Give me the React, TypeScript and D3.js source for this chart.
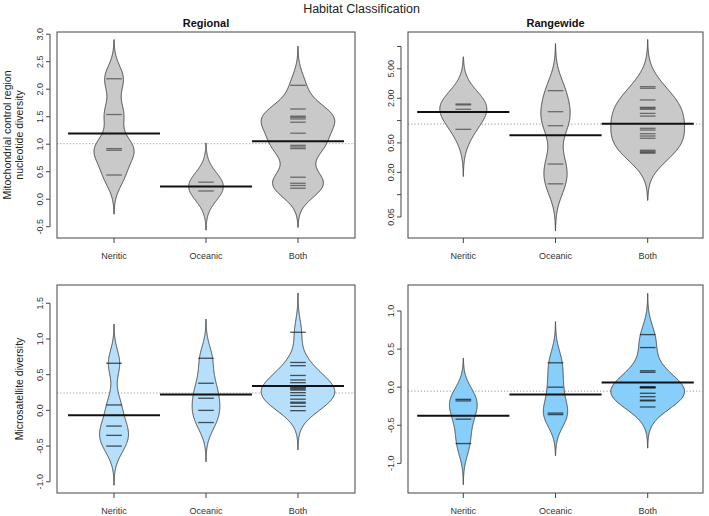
import React from "react";
import * as d3 from "d3";

// ---------- data ----------
const categories = ["Neritic", "Oceanic", "Both"];

// Mitochondrial control region nucleotide diversity – Regional
const mtRegionalNeritic = [2.19, 1.54, 0.92, 0.89, 0.44];
const mtRegionalOceanic = [0.31, 0.15];
const mtRegionalBoth = [2.07, 1.64, 1.51, 1.49, 1.46, 1.4, 1.2, 0.98, 0.95, 0.92, 0.4, 0.29, 0.25, 0.2];

// Mitochondrial – Rangewide (log scale)
const mtRangewideNeritic = [1.675, 1.626, 1.422, 0.762];
const mtRangewideOceanic = [2.535, 1.318, 0.853, 0.259, 0.14];
const mtRangewideBoth = [2.87, 2.73, 1.9, 1.51, 1.47, 1.42, 1.25, 1.15, 0.787, 0.746, 0.665, 0.619, 0.577, 0.398, 0.385, 0.372, 0.363];

// Microsatellite diversity – Regional
const msRegionalNeritic = [0.66, 0.076, -0.22, -0.35, -0.5];
const msRegionalOceanic = [0.73, 0.38, 0.17, 0.0, -0.17];
const msRegionalBoth = [1.094, 0.671, 0.626, 0.489, 0.426, 0.388, 0.33, 0.315, 0.3, 0.285, 0.248, 0.209, 0.157, 0.115, 0.1, 0.056, -0.004];

// Microsatellite diversity – Rangewide
const msRangewideNeritic = [-0.16, -0.18, -0.42, -0.74];
const msRangewideOceanic = [0.32, 0.0, -0.34, -0.36];
const msRangewideBoth = [0.69, 0.52, 0.215, 0.195, 0.005, 0.0, -0.005, -0.01, -0.08, -0.125, -0.17, -0.18, -0.26];

// tick values
const linTicksMtRegional = [-0.5, 0, 0.5, 1, 1.5, 2, 2.5, 3];
const logTicksMtRangewide = [0.05, 0.1, 0.2, 0.5, 1, 2, 5, 10];
const logLabelsMtRangewide = [0.05, 0.2, 0.5, 2, 5];
const linTicksMsRegional = [-1, -0.5, 0, 0.5, 1, 1.5];
const linTicksMsRangewide = [-1, -0.5, 0, 0.5, 1];

// ---------- layout ----------
const W = 709;
const H = 516;
const FONT = "'Liberation Sans', Arial, Helvetica, sans-serif";

type PanelDef = {
  groups: number[][];
  log: boolean;
  domain: [number, number];
  box: { x0: number; x1: number; y0: number; y1: number };
  xDomain: [number, number];
  bw: number;
  fill: string;
  lineCol: string;
  ticks: number[];
  labels: number[];
  fmt: (v: number) => string;
  title?: string;
};

const panels: PanelDef[] = [
  {
    groups: [mtRegionalNeritic, mtRegionalOceanic, mtRegionalBoth],
    log: false,
    domain: [-0.705, 3.04],
    box: { x0: 57, x1: 355, y0: 32, y1: 238 },
    xDomain: [0.38, 3.62],
    bw: 0.237,
    fill: "#c9c9c9",
    lineCol: "rgba(30,30,30,0.55)",
    ticks: linTicksMtRegional,
    labels: linTicksMtRegional,
    fmt: d3.format(".1f"),
    title: "Regional",
  },
  {
    groups: [mtRangewideNeritic, mtRangewideOceanic, mtRangewideBoth],
    log: true,
    domain: [0.026, 15.7],
    box: { x0: 408, x1: 703, y0: 32, y1: 238 },
    xDomain: [0.4, 3.6],
    bw: 0.212,
    fill: "#c9c9c9",
    lineCol: "rgba(30,30,30,0.55)",
    ticks: logTicksMtRangewide,
    labels: logLabelsMtRangewide,
    fmt: d3.format(".2f"),
    title: "Rangewide",
  },
  {
    groups: [msRegionalNeritic, msRegionalOceanic, msRegionalBoth],
    log: false,
    domain: [-1.157, 1.756],
    box: { x0: 57, x1: 355, y0: 285, y1: 493 },
    xDomain: [0.38, 3.62],
    bw: 0.183,
    fill: "#b5dffa",
    lineCol: "rgba(15,15,15,0.7)",
    ticks: linTicksMsRegional,
    labels: linTicksMsRegional,
    fmt: d3.format(".1f"),
  },
  {
    groups: [msRangewideNeritic, msRangewideOceanic, msRangewideBoth],
    log: false,
    domain: [-1.389, 1.341],
    box: { x0: 408, x1: 703, y0: 285, y1: 493 },
    xDomain: [0.4, 3.6],
    bw: 0.18,
    fill: "#87cefa",
    lineCol: "rgba(15,15,15,0.7)",
    ticks: linTicksMsRangewide,
    labels: linTicksMsRangewide,
    fmt: d3.format(".1f"),
  },
];

const MAXWIDTH = 0.8;
const GROWNAGE = 10;
const BEANLINE_LEN = 0.17;

function gauss(u: number) {
  return Math.exp(-0.5 * u * u) / Math.sqrt(2 * Math.PI);
}

function kde(values: number[], bw: number, n = 240): [number, number][] {
  const lo = (d3.min(values) as number) - 3 * bw;
  const hi = (d3.max(values) as number) + 3 * bw;
  const grown = Math.min(1, values.length / GROWNAGE);
  return d3.range(n).map((i) => {
    const t = lo + ((hi - lo) * i) / (n - 1);
    const d = (d3.mean(values, (v) => gauss((t - v) / bw)) as number) / bw;
    return [t, d * grown];
  });
}

function fmtMinus(s: string) {
  return s.replace("\u2212", "-");
}

function Panel({ p }: { p: PanelDef }) {
  const { box } = p;
  const x = d3.scaleLinear().domain(p.xDomain).range([box.x0, box.x1]);
  const yBase = p.log
    ? d3.scaleLog().domain(p.domain).range([box.y1, box.y0])
    : d3.scaleLinear().domain(p.domain).range([box.y1, box.y0]);
  const tf = (v: number) => (p.log ? Math.log10(v) : v);
  const inv = (t: number) => (p.log ? Math.pow(10, t) : t);
  const y = (t: number) => yBase(inv(t)) as number;

  const tGroups = p.groups.map((g) => g.map(tf));
  const dens = tGroups.map((g) => kde(g, p.bw));
  const maxD = d3.max(dens, (d) => d3.max(d, (e) => e[1])) as number;
  const wd = MAXWIDTH / maxD;
  const overall = d3.mean(tGroups.flat()) as number;

  const axisX = box.x0 - 7;
  const tickVals = p.ticks.filter((v) => {
    const yy = yBase(v) as number;
    return yy >= box.y0 - 0.5 && yy <= box.y1 + 0.5;
  });
  const yTickMin = d3.min(tickVals.map((v) => yBase(v) as number)) as number;
  const yTickMax = d3.max(tickVals.map((v) => yBase(v) as number)) as number;

  return (
    <g>
      {/* overall mean dotted line */}
      <line
        x1={box.x0}
        x2={box.x1}
        y1={y(overall)}
        y2={y(overall)}
        stroke="#999"
        strokeWidth={1}
        strokeDasharray="1.2,2"
      />
      {/* beans */}
      {dens.map((d, i) => {
        const at = i + 1;
        const area = d3
          .area<[number, number]>()
          .y((e) => y(e[0]))
          .x0((e) => x(at - (e[1] * wd) / 2))
          .x1((e) => x(at + (e[1] * wd) / 2));
        return (
          <path
            key={"bean" + i}
            d={area(d) as string}
            fill={p.fill}
            stroke="#4a4a4a"
            strokeWidth={1}
          />
        );
      })}
      {/* bean lines */}
      {tGroups.map((g, i) =>
        g.map((t, j) => (
          <line
            key={`bl${i}-${j}`}
            x1={x(i + 1 - BEANLINE_LEN / 2)}
            x2={x(i + 1 + BEANLINE_LEN / 2)}
            y1={y(t)}
            y2={y(t)}
            stroke={p.lineCol}
            strokeWidth={1.3}
          />
        ))
      )}
      {/* average lines */}
      {tGroups.map((g, i) => {
        const m = d3.mean(g) as number;
        return (
          <line
            key={"avg" + i}
            x1={x(i + 1 - 0.5)}
            x2={x(i + 1 + 0.5)}
            y1={y(m)}
            y2={y(m)}
            stroke="#111"
            strokeWidth={2}
          />
        );
      })}
      {/* box */}
      <rect
        x={box.x0}
        y={box.y0}
        width={box.x1 - box.x0}
        height={box.y1 - box.y0}
        fill="none"
        stroke="#444"
        strokeWidth={1}
      />
      {/* y axis */}
      <line x1={axisX} x2={axisX} y1={yTickMin} y2={yTickMax} stroke="#444" strokeWidth={1} />
      {tickVals.map((v) => {
        const yy = yBase(v) as number;
        return (
          <line key={"yt" + v} x1={axisX - 4} x2={axisX} y1={yy} y2={yy} stroke="#444" strokeWidth={1} />
        );
      })}
      {p.labels.map((v) => {
        const yy = yBase(v) as number;
        return (
          <text
            key={"yl" + v}
            transform={`translate(${axisX - 7},${yy}) rotate(-90)`}
            textAnchor="middle"
            fontSize={9}
            fontFamily={FONT}
            fill="#333"
          >
            {fmtMinus(p.fmt(v))}
          </text>
        );
      })}
      {/* x axis */}
      {categories.map((c, i) => (
        <g key={"xc" + c}>
          <line x1={x(i + 1)} x2={x(i + 1)} y1={box.y1} y2={box.y1 + 5} stroke="#444" strokeWidth={1} />
          <text
            x={x(i + 1)}
            y={box.y1 + 21}
            textAnchor="middle"
            fontSize={9}
            fontFamily={FONT}
            fill="#333"
          >
            {c}
          </text>
        </g>
      ))}
      {p.title && (
        <text
          x={(box.x0 + box.x1) / 2}
          y={27}
          textAnchor="middle"
          fontSize={11}
          fontWeight="bold"
          fontFamily={FONT}
          fill="#111"
        >
          {p.title}
        </text>
      )}
    </g>
  );
}

export default function App() {
  return (
    <svg
      width={W}
      height={H}
      viewBox={`0 0 ${W} ${H}`}
      style={{ position: "absolute", left: 0, top: 0, background: "#fff" }}
    >
      <rect x={0} y={0} width={W} height={H} fill="#fff" />
      <text x={361.5} y={13} textAnchor="middle" fontSize={12.5} fontFamily={FONT} fill="#222">
        Habitat Classification
      </text>
      {panels.map((p, i) => (
        <Panel key={i} p={p} />
      ))}
      <text
        transform={`translate(10.5,135) rotate(-90)`}
        textAnchor="middle"
        fontSize={10.5}
        fontFamily={FONT}
        fill="#222"
      >
        Mitochondrial control region
      </text>
      <text
        transform={`translate(22.5,135) rotate(-90)`}
        textAnchor="middle"
        fontSize={10.5}
        fontFamily={FONT}
        fill="#222"
      >
        nucleotide diversity
      </text>
      <text
        transform={`translate(22.5,389) rotate(-90)`}
        textAnchor="middle"
        fontSize={10.5}
        fontFamily={FONT}
        fill="#222"
      >
        Microsatellite diversity
      </text>
    </svg>
  );
}
